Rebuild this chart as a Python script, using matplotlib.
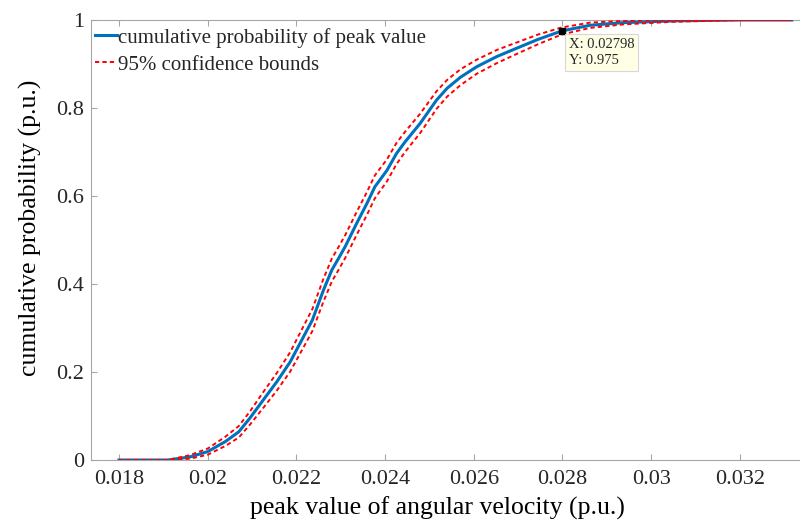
import matplotlib
matplotlib.use('Agg')
import matplotlib.pyplot as plt

# empirical CDF of the peak angular velocity, with 95% bounds
peak_value = [0.0180, 0.0191, 0.0196, 0.0200, 0.0204, 0.0207, 0.02095, 0.02125,
              0.02156, 0.02186, 0.02216, 0.02236, 0.02261, 0.02280, 0.02295,
              0.02310, 0.02336, 0.02359, 0.02377, 0.02404, 0.02426, 0.02445,
              0.02479, 0.02516, 0.02540, 0.02570, 0.02607, 0.02652, 0.02697,
              0.02745, 0.02798, 0.02862, 0.02937, 0.03050, 0.03200, 0.03317]
cum_prob = [0.000, 0.000, 0.007, 0.019, 0.042, 0.064, 0.095, 0.136, 0.178,
            0.223, 0.280, 0.318, 0.386, 0.432, 0.458, 0.485, 0.538, 0.583,
            0.621, 0.658, 0.697, 0.723, 0.765, 0.818, 0.845, 0.870, 0.894,
            0.917, 0.936, 0.956, 0.975, 0.988, 0.994, 0.998, 1.000, 1.000]
lower_bound = [0.000, 0.000, 0.003, 0.012, 0.032, 0.051, 0.080, 0.118, 0.158,
               0.201, 0.256, 0.293, 0.360, 0.406, 0.432, 0.459, 0.512, 0.557,
               0.595, 0.633, 0.673, 0.700, 0.743, 0.798, 0.826, 0.852, 0.878,
               0.902, 0.923, 0.945, 0.967, 0.982, 0.990, 0.996, 1.000, 1.000]
upper_bound = [0.000, 0.000, 0.011, 0.026, 0.053, 0.077, 0.110, 0.154, 0.198,
               0.245, 0.304, 0.343, 0.412, 0.458, 0.484, 0.511, 0.564, 0.609,
               0.647, 0.683, 0.721, 0.746, 0.787, 0.838, 0.864, 0.888, 0.910,
               0.932, 0.949, 0.967, 0.983, 0.994, 0.998, 1.000, 1.000, 1.000]

x_ticks = [0.018, 0.020, 0.022, 0.024, 0.026, 0.028, 0.030, 0.032]
x_tick_labels = ['0.018', '0.02', '0.022', '0.024', '0.026', '0.028', '0.03', '0.032']
y_ticks = [0, 0.2, 0.4, 0.6, 0.8, 1.0]
y_tick_labels = ['0', '0.2', '0.4', '0.6', '0.8', '1']

tip_x = 0.02798
tip_y = 0.975

plt.rcParams['font.family'] = ['Liberation Serif', 'DejaVu Serif']
plt.rcParams['text.color'] = '#262626'

fig = plt.figure(figsize=(8, 5.2), dpi=100)
ax = fig.add_axes([91 / 800, 60 / 520, 709 / 800, 440 / 520])

ax.plot(peak_value, cum_prob, color='#0072BD', lw=2.2,
        label='cumulative probability of peak value', zorder=3)
ax.plot(peak_value, lower_bound, color='#FF0000', lw=1.4, ls=(0, (2.2, 1.6)),
        label='95% confidence bounds', zorder=4)
ax.plot(peak_value, upper_bound, color='#FF0000', lw=1.4, ls=(0, (2.2, 1.6)), zorder=4)

# data tip
ax.plot([tip_x], [tip_y], marker='s', ms=4.5, color='black', zorder=5, clip_on=False)
ax.annotate('X: %.5f\nY: %.3f' % (tip_x, tip_y), xy=(tip_x, tip_y),
            xytext=(5, -5), textcoords='offset points', ha='left', va='top',
            fontsize=10.5, color='#262626', zorder=6, linespacing=1.3,
            bbox=dict(boxstyle='square,pad=0.25', fc='#FFFFE6', ec='#D8D8D8', lw=0.8))

ax.set_xlim(0.017369, 0.033355)
ax.set_ylim(0, 1)
ax.set_xticks(x_ticks)
ax.set_xticklabels(x_tick_labels)
ax.set_yticks(y_ticks)
ax.set_yticklabels(y_tick_labels)

# light grey box, ticks pointing in
for side in ['left', 'bottom', 'top']:
    ax.spines[side].set_color('#A6A6A6')
    ax.spines[side].set_linewidth(0.8)
ax.spines['right'].set_visible(False)
ax.tick_params(axis='both', direction='in', length=4.5, width=0.8,
               color='#A6A6A6', labelsize=16, labelcolor='#262626')
ax.tick_params(axis='x', top=True, pad=7)
ax.tick_params(axis='y', pad=5)

ax.set_xlabel('peak value of angular velocity (p.u.)', fontsize=18.5)
ax.set_ylabel('cumulative probability (p.u.)', fontsize=18.5)
ax.xaxis.set_label_coords(0.489, -0.084)
ax.yaxis.set_label_coords(-0.069, 0.527)

ax.legend(loc='upper left', bbox_to_anchor=(0.003, 0.987), frameon=False,
          fontsize=15, handlelength=1.05, handletextpad=0.05, borderaxespad=0,
          borderpad=0.1, labelspacing=0.35)

plt.savefig('out.png', dpi=100)
